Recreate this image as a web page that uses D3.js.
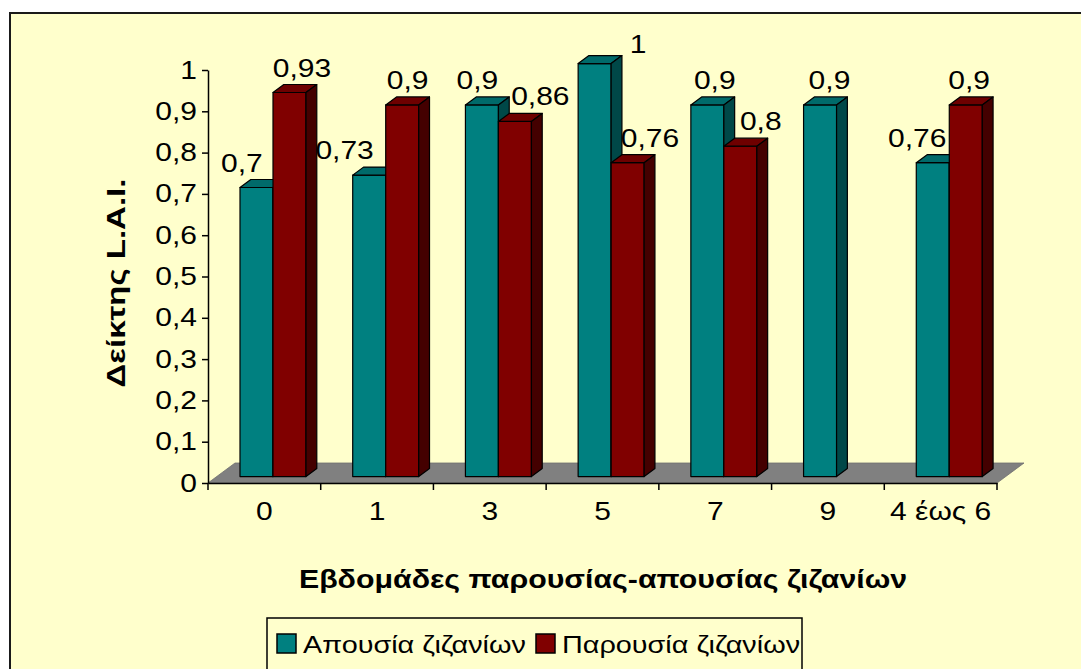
<!DOCTYPE html>
<html>
<head>
<meta charset="utf-8">
<script src="https://cdn.jsdelivr.net/npm/d3@7"></script>
<style>
  html, body { margin: 0; padding: 0; background: #ffffff; }
  svg { display: block; }
  text { font-family: "Liberation Sans", Arial, sans-serif; fill: #000; }
</style>
</head>
<body>
<svg id="chart" width="1081" height="669"></svg>
<script>
// ---- data ----
const categories = ["0", "1", "3", "5", "7", "9", "4 έως 6"];
const seriesNames = ["Απουσία ζιζανίων", "Παρουσία ζιζανίων"];
const absenceValues = [0.7, 0.73, 0.9, 1, 0.9, 0.9, 0.76];
const presenceValues = [0.93, 0.9, 0.86, 0.76, 0.8, null, 0.9];
const yTicks = [0, 0.1, 0.2, 0.3, 0.4, 0.5, 0.6, 0.7, 0.8, 0.9, 1];
const yTitle = "Δείκτης L.A.I.";
const xTitle = "Εβδομάδες παρουσίας-απουσίας ζιζανίων";

// ---- layout ----
const W = 1081, H = 669;
const plot = { left: 208, right: 997, top: 70, bottom: 483 };
const floorDepth = { dx: 27, dy: -20 };
const barFront = 0.32, barBack = 0.72;      // fraction of floor depth
const barWidth = 33;
const stretch = 1.2;                          // horizontal glyph stretch
const colors = [
  { front: "#008080", top: "#006a6a", side: "#004848" },
  { front: "#800000", top: "#6e0000", side: "#440000" }
];
// label nudges (Excel-style collision avoidance), relative to the top face centre
const labelShift = [
  [[-20, 0], [-30, 0], [-10, 0], [38, 5], [2, 0], [4, 0], [-21, 0]],
  [[7, 0], [0, 0], [20, 0], [17, 0], [15, 0], [0, 0], [-2, 0]]
];

const svg = d3.select("#chart");
const comma = d3.formatLocale({ decimal: ",", thousands: ".", grouping: [3], currency: ["", ""] });
const fmt = comma.format("~g");

// chart area frame
svg.append("rect")
  .attr("x", 10).attr("y", 13).attr("width", W + 20).attr("height", H + 20)
  .attr("fill", "#FFFFCC").attr("stroke", "#1a1a1a").attr("stroke-width", 2);

const x = d3.scaleBand().domain(categories).range([plot.left, plot.right]).padding(0);
const y = d3.scaleLinear().domain([0, 1]).range([plot.bottom, plot.top]);

function textAt(sel, tx, ty, s = stretch) {
  return sel.attr("transform", `translate(${tx},${ty}) scale(${s},1)`);
}

// floor
const fl = [
  [plot.left, plot.bottom], [plot.right, plot.bottom],
  [plot.right + floorDepth.dx, plot.bottom + floorDepth.dy],
  [plot.left + floorDepth.dx, plot.bottom + floorDepth.dy]
];
svg.append("polygon").attr("points", fl.map(p => p.join(",")).join(" "))
  .attr("fill", "#808080").attr("stroke", "#707070").attr("stroke-width", 0.8);

// bars
const fdx = floorDepth.dx * barFront, fdy = floorDepth.dy * barFront;
const ddx = floorDepth.dx * (barBack - barFront), ddy = floorDepth.dy * (barBack - barFront);
const series = [absenceValues, presenceValues];
const bars = [];
categories.forEach((c, i) => {
  const cx = x(c) + x.bandwidth() / 2 + fdx;
  series.forEach((vals, s) => {
    const v = vals[i];
    if (v == null) return;
    const xl = cx - barWidth + s * barWidth, xr = xl + barWidth;
    const yb = y(0) + fdy, yt = y(v) + fdy;
    bars.push({ c, i, s, v, xl, xr, yb, yt });
  });
});
const g = svg.append("g").attr("stroke", "#000").attr("stroke-width", 1.2).attr("stroke-linejoin", "round");
bars.forEach(b => {
  const col = colors[b.s];
  g.append("rect").attr("x", b.xl).attr("y", b.yt).attr("width", b.xr - b.xl).attr("height", b.yb - b.yt)
    .attr("fill", col.front);
  g.append("polygon").attr("points", [
    [b.xl, b.yt], [b.xl + ddx, b.yt + ddy], [b.xr + ddx, b.yt + ddy], [b.xr, b.yt]
  ].map(p => p.join(",")).join(" ")).attr("fill", col.top);
  g.append("polygon").attr("points", [
    [b.xr, b.yt], [b.xr + ddx, b.yt + ddy], [b.xr + ddx, b.yb + ddy], [b.xr, b.yb]
  ].map(p => p.join(",")).join(" ")).attr("fill", col.side);
});

// value labels
bars.forEach(b => {
  const sh = labelShift[b.s][b.i];
  const tx = (b.xl + b.xr) / 2 + ddx / 2 + sh[0];
  const ty = b.yt + ddy - 8 + sh[1];
  textAt(svg.append("text").attr("text-anchor", "middle").attr("font-size", 25).text(fmt(b.v)), tx, ty);
});

// y axis
const yAxis = svg.append("g").attr("transform", `translate(${plot.left},0)`)
  .call(d3.axisLeft(y).tickValues(yTicks).tickFormat(fmt).tickSize(6).tickPadding(5).tickSizeOuter(0));
yAxis.select(".domain").attr("stroke", "#000").attr("stroke-width", 1.5);
yAxis.selectAll(".tick line").attr("stroke", "#000").attr("stroke-width", 1.5);
yAxis.selectAll(".tick text").each(function () {
  const t = d3.select(this);
  const tx = +t.attr("x");
  t.attr("x", null).attr("font-size", 25).attr("font-family", null).attr("fill", "#000");
  textAt(t, tx, 0);
});

// x axis: line, boundary ticks, centred category labels
const xAxis = svg.append("g").attr("transform", `translate(0,${plot.bottom})`)
  .call(d3.axisBottom(x).tickSize(0).tickPadding(19).tickSizeOuter(0));
xAxis.select(".domain").attr("stroke", "#000").attr("stroke-width", 1.5);
xAxis.selectAll(".tick text").each(function () {
  const t = d3.select(this);
  const ty = +t.attr("y");
  t.attr("y", null).attr("font-size", 25).attr("font-family", null).attr("fill", "#000");
  textAt(t, 0, ty);
});
const bounds = categories.map(c => x(c)).concat([plot.right]);
xAxis.selectAll(".bound").data(bounds).join("line").attr("class", "bound")
  .attr("x1", d => d).attr("x2", d => d).attr("y1", 0).attr("y2", 7)
  .attr("stroke", "#000").attr("stroke-width", 1.5);

// axis titles
textAt(svg.append("text").attr("text-anchor", "middle").attr("font-size", 26).attr("font-weight", "bold")
  .text(xTitle), 603, 588, 1.165);
svg.append("text").attr("text-anchor", "middle").attr("font-size", 26).attr("font-weight", "bold")
  .attr("transform", `translate(125,283) rotate(-90) scale(1.27,1)`)
  .text(yTitle);

// legend
const lg = svg.append("g");
lg.append("rect").attr("x", 267).attr("y", 618).attr("width", 535).attr("height", 80)
  .attr("fill", "#FFFFCC").attr("stroke", "#000").attr("stroke-width", 1.5);
const legendX = [277, 536];
seriesNames.forEach((name, s) => {
  lg.append("rect").attr("x", legendX[s]).attr("y", 634).attr("width", 19).attr("height", 19)
    .attr("fill", colors[s].front).attr("stroke", "#000").attr("stroke-width", 1.5);
  textAt(lg.append("text").attr("font-size", 24).text(name), legendX[s] + 26, 653);
});
</script>
</body>
</html>
